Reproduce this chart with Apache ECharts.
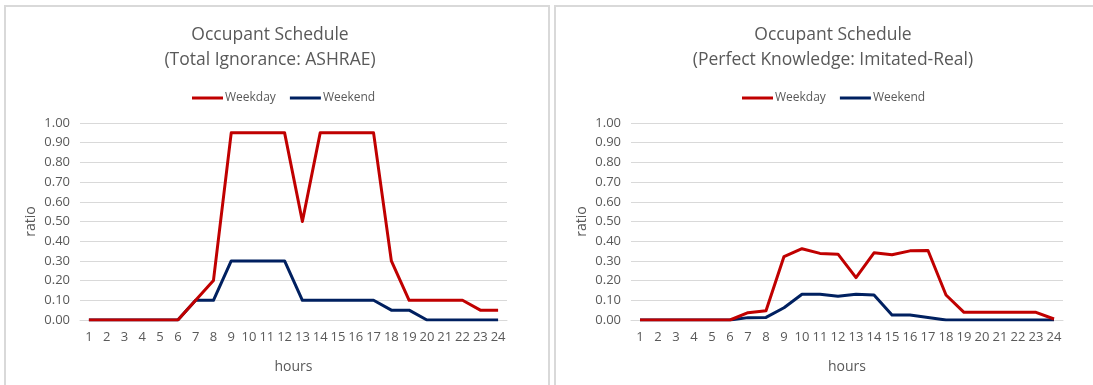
<!DOCTYPE html>
<html>
<head>
<meta charset="utf-8">
<script src="https://cdn.jsdelivr.net/npm/echarts@6/dist/echarts.min.js"></script>
<style>
  html, body { margin: 0; padding: 0; background: #fff; overflow: hidden; }
  #chart { width: 1093px; height: 385px; }
</style>
</head>
<body>
<div id="chart"></div>
<script>
// Hours of the day
const hours = ['1','2','3','4','5','6','7','8','9','10','11','12','13','14','15','16','17','18','19','20','21','22','23','24'];

// Total Ignorance: ASHRAE schedule
const ashraeWeekday = [0,0,0,0,0,0,0.10,0.20,0.95,0.95,0.95,0.95,0.50,0.95,0.95,0.95,0.95,0.30,0.10,0.10,0.10,0.10,0.05,0.05];
const ashraeWeekend = [0,0,0,0,0,0,0.10,0.10,0.30,0.30,0.30,0.30,0.10,0.10,0.10,0.10,0.10,0.05,0.05,0,0,0,0,0];

// Perfect Knowledge: Imitated-Real schedule
const realWeekday = [0,0,0,0,0,0,0.037,0.047,0.322,0.362,0.338,0.334,0.215,0.341,0.331,0.351,0.353,0.127,0.039,0.039,0.039,0.039,0.039,0.005];
const realWeekend = [0,0,0,0,0,0,0.012,0.013,0.062,0.131,0.131,0.121,0.131,0.127,0.025,0.025,0.013,0,0,0,0,0,0,0];

const titles = ['Occupant Schedule\n(Total Ignorance: ASHRAE)', 'Occupant Schedule\n(Perfect Knowledge: Imitated-Real)'];
const seriesNames = ['Weekday', 'Weekend'];

const RED = '#c00000';
const NAVY = '#002060';
const TEXT = '#595959';
const GRIDLINE = '#d9d9d9';
const FONT = '"Open Sans", "Noto Sans", sans-serif';

const chart = echarts.init(document.getElementById('chart'), null, { renderer: 'canvas' });

const panels = [
  { titleX: 265, legendX: 187, grid: { left: 80, top: 123, width: 427, height: 197 }, data: [ashraeWeekday, ashraeWeekend] },
  { titleX: 828, legendX: 737, grid: { left: 631, top: 123, width: 432, height: 197 }, data: [realWeekday, realWeekend] }
];

const option = {
  animation: false,
  backgroundColor: '#fff',
  textStyle: { fontFamily: FONT },
  graphic: [
    { type: 'rect', shape: { x: 5, y: 6, width: 544, height: 400 }, style: { fill: 'none', stroke: GRIDLINE, lineWidth: 2 }, silent: true },
    { type: 'rect', shape: { x: 555, y: 6, width: 560, height: 400 }, style: { fill: 'none', stroke: GRIDLINE, lineWidth: 2 }, silent: true }
  ],
  title: panels.map((p, i) => ({
    text: titles[i],
    left: p.titleX,
    top: 18,
    textAlign: 'center',
    textStyle: { fontFamily: FONT, fontSize: 17.5, fontWeight: 'normal', color: TEXT, lineHeight: 25 }
  })),
  legend: panels.map(p => ({
    left: p.legendX,
    top: 87,
    icon: 'rect',
    itemWidth: 31,
    itemHeight: 3,
    itemGap: 14,
    selectedMode: false,
    data: seriesNames,
    textStyle: { fontFamily: FONT, fontSize: 12, color: TEXT, padding: [0, 0, 0, -3] }
  })),
  grid: panels.map(p => p.grid),
  xAxis: panels.map((p, i) => ({
    type: 'category',
    gridIndex: i,
    data: hours,
    boundaryGap: true,
    name: 'hours',
    nameLocation: 'middle',
    nameGap: 40,
    nameTextStyle: { fontFamily: FONT, fontSize: 14, color: TEXT },
    axisLine: { lineStyle: { color: GRIDLINE, width: 1 } },
    axisTick: { show: false },
    axisLabel: { color: TEXT, fontSize: 13, fontFamily: FONT, margin: 11, interval: 0 }
  })),
  yAxis: panels.map((p, i) => ({
    type: 'value',
    gridIndex: i,
    min: 0,
    max: 1,
    interval: 0.1,
    name: 'ratio',
    nameLocation: 'middle',
    nameGap: 42,
    nameRotate: 90,
    nameTextStyle: { fontFamily: FONT, fontSize: 14, color: TEXT },
    axisLine: { show: false },
    axisTick: { show: false },
    splitLine: { lineStyle: { color: GRIDLINE, width: 1 } },
    axisLabel: { color: TEXT, fontSize: 13, fontFamily: FONT, margin: 10, formatter: v => v.toFixed(2) }
  })),
  series: []
};

panels.forEach((p, i) => {
  [RED, NAVY].forEach((c, k) => {
    option.series.push({
      type: 'line',
      name: seriesNames[k],
      xAxisIndex: i,
      yAxisIndex: i,
      data: p.data[k],
      symbol: 'none',
      color: c,
      lineStyle: { color: c, width: 3, join: 'round' },
      z: 3 - k
    });
  });
});

chart.setOption(option);
</script>
</body>
</html>
